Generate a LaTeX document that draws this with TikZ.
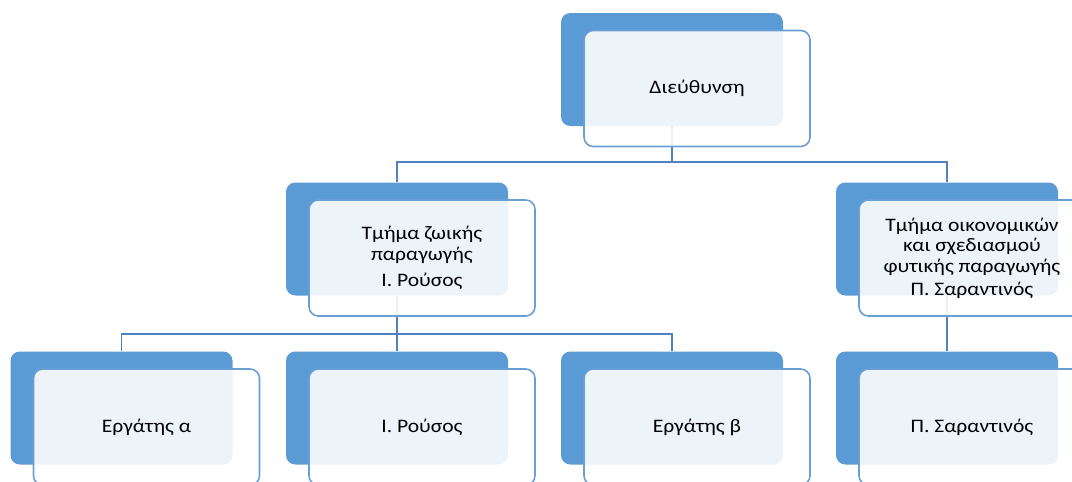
\documentclass[tikz,border=0pt]{standalone}
\usepackage{fontspec}
\setmainfont{Carlito}[FakeStretch=1.13]
\usetikzlibrary{positioning}
\definecolor{backblue}{HTML}{5B9BD5}
\definecolor{edgeblue}{HTML}{6A9FD6}
\definecolor{lineblue}{HTML}{4F81BD}

\begin{document}
\begin{tikzpicture}[
  x=0.75pt,y=-0.75pt,
  back/.style={fill=backblue,rounded corners=7pt,minimum width=166.5pt,minimum height=84.75pt,inner sep=0pt},
  card/.style={draw=edgeblue,line width=1.2pt,fill=white,fill opacity=0.89,text opacity=1,rounded corners=7pt,minimum width=169.5pt,minimum height=87pt,align=center,font=\fontsize{14.3}{15.5}\selectfont,inner sep=0pt},
  link/.style={draw=lineblue,line width=1.3pt}
]
\useasboundingbox (0,0) rectangle (1072,482);
\clip (0,0) rectangle (1072,482);
% back plates
\node[back] (dir) at (672,69.5) {};
\node[back] (zoo) at (397,239) {};
\node[back] (fyt) at (947,239) {};
\node[back] (w1) at (121.5,408) {};
\node[back] (w2) at (397,408) {};
\node[back] (w3) at (672,408) {};
\node[back] (w4) at (947,408) {};
% connectors
\foreach \c in {zoo,fyt}
  \draw[link] (\c.north) -- ++(0,-20) -| (dir.south);
\foreach \c in {w1,w2,w3}
  \draw[link] (\c.north) -- ++(0,-17) -| (zoo.south);
\draw[link] (w4.north) -- (fyt.south);
% text cards
\node[card] (dir-c) at ([shift={(25,19)}]dir.center) {Διεύθυνση};
\node[card] (zoo-c) at ([shift={(25,19)}]zoo.center) {Τμήμα ζωικής\\παραγωγής\\[4.5pt]Ι. Ρούσος};
\node[card] (fyt-c) at ([shift={(25,19)}]fyt.center) {Τμήμα οικονομικών\\και σχεδιασμού\\φυτικής παραγωγής\\[1.5pt]Π. Σαραντινός};
\node[card] (w1-c) at ([shift={(25,19)}]w1.center) {Εργάτης α};
\node[card] (w2-c) at ([shift={(25,19)}]w2.center) {Ι. Ρούσος};
\node[card] (w3-c) at ([shift={(25,19)}]w3.center) {Εργάτης β};
\node[card] (w4-c) at ([shift={(25,19)}]w4.center) {Π. Σαραντινός};
\end{tikzpicture}
\end{document}
